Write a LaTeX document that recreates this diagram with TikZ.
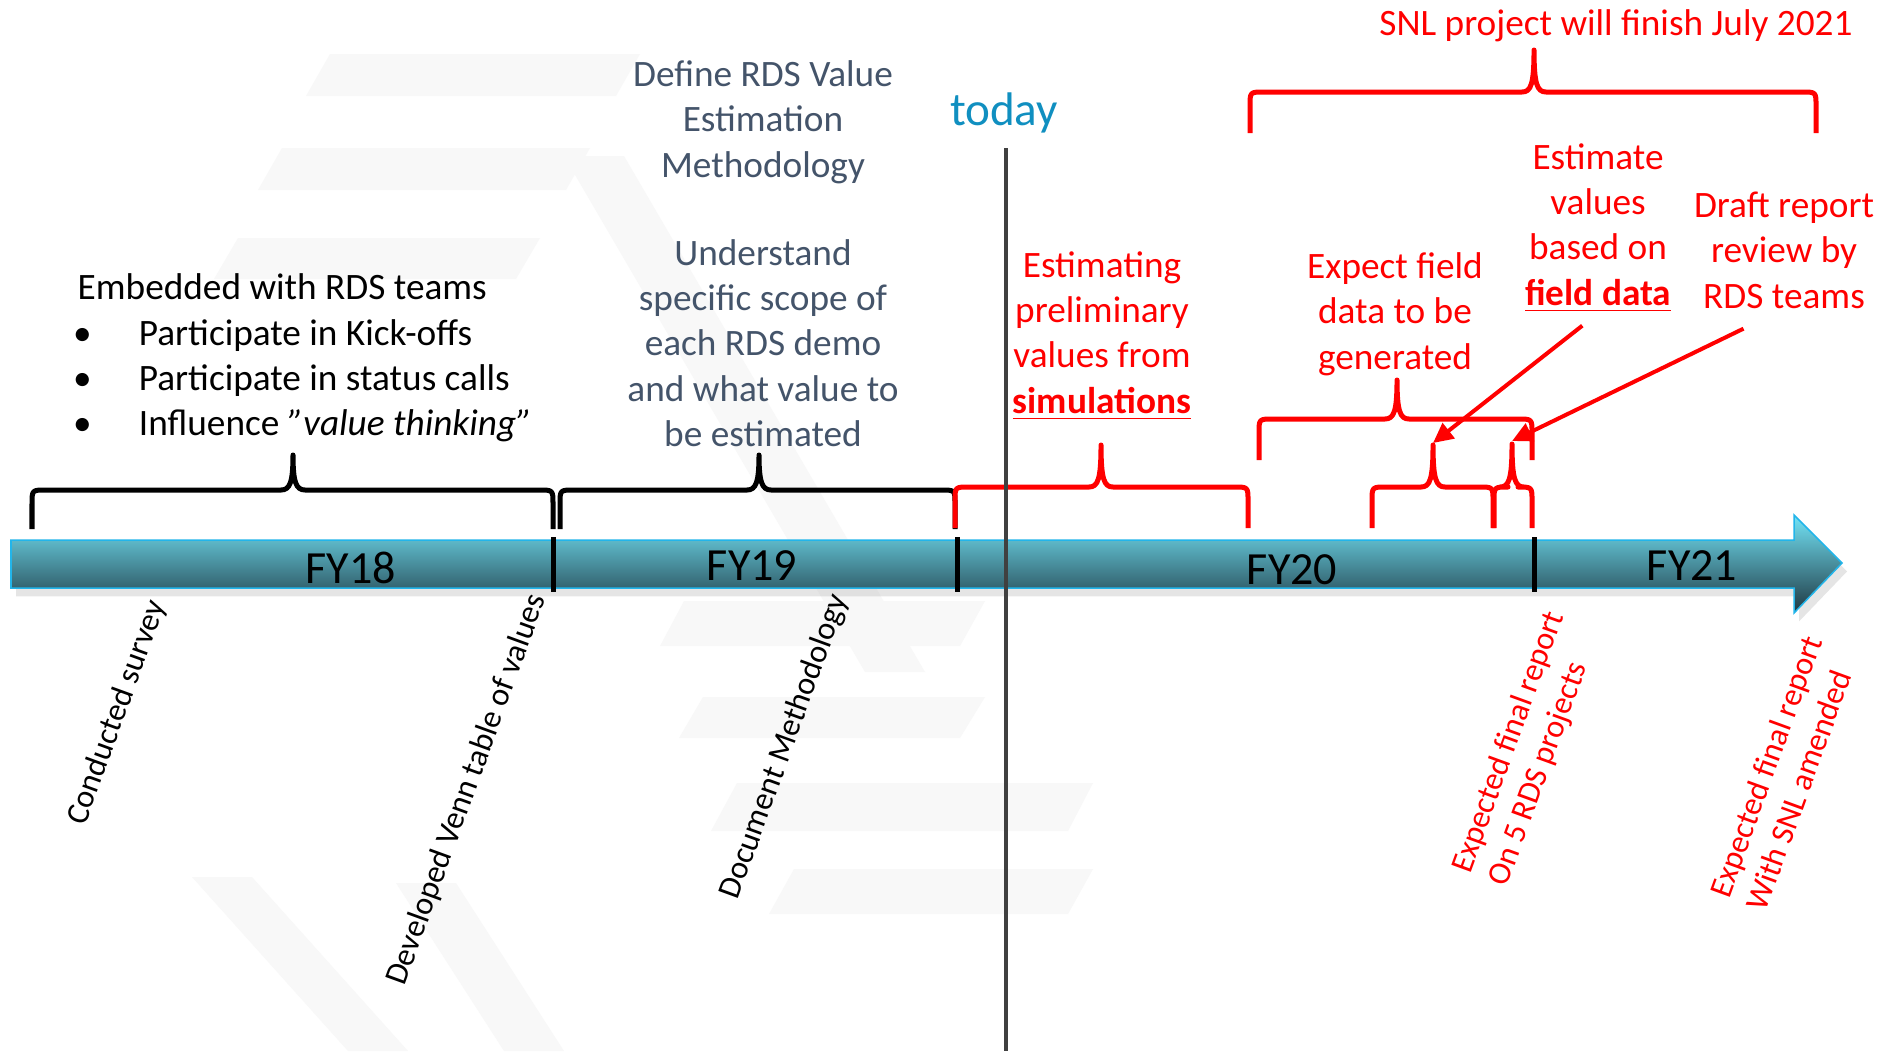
\documentclass[tikz,border=0pt]{standalone}
\usepackage{fontspec}
\setmainfont{Carlito}
\usepackage{tikz}
\usetikzlibrary{shadows,arrows.meta}

\definecolor{slate}{HTML}{44546A}
\definecolor{todayblue}{HTML}{108FC0}
\definecolor{barrim}{HTML}{22B5EA}
\definecolor{bartop}{RGB}{115,228,247}
\definecolor{barmid}{RGB}{85,186,212}
\definecolor{barbot}{RGB}{30,56,66}
\definecolor{wmgrey}{HTML}{F8F8F8}

\newcommand{\timebrace}[7]{\draw[bracket,#1] (#2,#6) -- (#2,#5+14) .. controls (#2,#5) .. (#2+14,#5) -- (#4-12,#5) .. controls (#4-3,#5) and (#4,#5-8) .. (#4,#7) .. controls (#4,#5-8) and (#4+3,#5) .. (#4+12,#5) -- (#3-14,#5) .. controls (#3,#5) .. (#3,#5+14) -- (#3,#6);}

\begin{document}
\begin{tikzpicture}[x=0.01cm, y=-0.01cm, every node/.style={inner sep=0pt},
    bracket/.style={line width=0.05cm, line join=round},
    txt/.style={font=\fontsize{10.6}{12.9}\selectfont, align=center},
    tilted/.style={font=\fontsize{9.2}{11.1}\selectfont, rotate=70},
    year/.style={font=\fontsize{13.1}{15}\selectfont, anchor=base},
    divider/.style={line width=0.05cm},
    pointer/.style={red, line width=0.04cm, -{Triangle[length=0.2cm,width=0.19cm]}},
    wmark/.style={fill=wmgrey}]
    \useasboundingbox[fill=white] (0,0) rectangle (1883,1051);

    \fill[wmark] (330,54) -- (640,54) -- (616,96) -- (306,96) -- cycle;
    \fill[wmark] (282,148) -- (590,148) -- (566,190) -- (258,190) -- cycle;
    \fill[wmark] (238,238) -- (540,238) -- (516,279) -- (214,279) -- cycle;
    \fill[wmark] (684,601) -- (985,601) -- (960,646) -- (660,646) -- cycle;
    \fill[wmark] (703,697) -- (985,697) -- (960,738) -- (679,738) -- cycle;
    \fill[wmark] (737,783) -- (1093,783) -- (1068,831) -- (711,831) -- cycle;
    \fill[wmark] (794,869) -- (1093,869) -- (1068,914) -- (769,914) -- cycle;
    \fill[wmark] (192,877) -- (252,877) -- (408,1051) -- (348,1051) -- cycle;
    \fill[wmark] (396,883) -- (456,883) -- (564,1051) -- (504,1051) -- cycle;
    \fill[wmark] (564,156) -- (624,156) -- (925,672) -- (865,672) -- cycle;

    \shade[top color=bartop, middle color=barmid, bottom color=barbot, draw=barrim, line width=0.015cm, drop shadow={opacity=0.2, shadow xshift=0.3ex}]
        (11,540) -- (1794,540) -- (1794,515) -- (1842,563) -- (1794,613) -- (1794,588) -- (11,588) -- cycle;
    \foreach \x in {553,957,1534}
        \draw[divider] (\x,537) -- (\x,592);

    \node[year] (fy18) at (351,583) {FY18};
    \node[year] (fy19) at (752,580) {FY19};
    \node[year] (fy20) at (1292,584) {FY20};
    \node[year] (fy21) at (1692,580) {FY21};

    \timebrace{black}{32}{553}{293}{490}{529}{455}
    \timebrace{black}{560}{955}{759}{490}{529}{455}
    \timebrace{red}{955}{1248}{1101}{487}{528}{445}
    \timebrace{red}{1259}{1532}{1397}{419}{460}{380}
    \timebrace{red}{1372}{1493}{1433}{487}{528}{445}
    \timebrace{red}{1494}{1532}{1512}{487}{528}{444}
    \timebrace{red}{1250}{1816}{1534}{92}{133}{50}
    \coordinate (tipest) at (1433,443);
    \coordinate (tipdraft) at (1512,441);

    \node[txt, slate] (define) at (763,122) {Define RDS Value\\Estimation\\Methodology};
    \node[txt, slate] (scope) at (763,343) {Understand\\specific scope of\\each RDS demo\\and what value to\\be estimated};
    \node[txt, align=left, anchor=west] (embedded) at (77,358) {Embedded with RDS teams\\
        \makebox[17.4pt][l]{\hspace{-1.3pt}\textbullet}Participate in Kick-offs\\
        \makebox[17.4pt][l]{\hspace{-1.3pt}\textbullet}Participate in status calls\\
        \makebox[17.4pt][l]{\hspace{-1.3pt}\textbullet}Influence \textit{”value thinking”}};
    \node[txt, red] (prelim) at (1102,336) {Estimating\\preliminary\\values from\\\underline{\textbf{simulations}}};
    \node[txt, red] (expect) at (1395,314) {Expect field\\data to be\\generated};
    \node[txt, red] (estval) at (1598,228) {Estimate\\values\\based on\\\underline{\textbf{field data}}};
    \node[txt, red] (draft) at (1784,250) {Draft report\\review by\\RDS teams};
    \node[txt, red, anchor=base] (snl) at (1616,35) {SNL project will finish July 2021};
    \node[font=\fontsize{13.4}{16}\selectfont, todayblue, anchor=base] (today) at (1004,125) {today};

    \node[tilted, anchor=base east] (survey) at (166,604) {Conducted survey};
    \node[tilted, anchor=base east] (venn) at (546,598) {Developed Venn table of values};
    \node[tilted, anchor=base east] (docmeth) at (848,598) {Document Methodology};
    \node[tilted, red, align=left, anchor=north west] (finalrds) at (1448,867) {Expected final report\\On 5 RDS projects};
    \node[tilted, red, align=left, anchor=north west] (finalsnl) at (1707,892) {Expected final report\\With SNL amended};

    \draw[pointer, shorten <=0.2cm] (estval.south) -- (tipest);
    \draw[pointer, shorten <=0.45cm] (draft.south) -- (tipdraft);

    \draw[line width=0.04cm, black!75] (1006,148) -- (1006,1051);
\end{tikzpicture}
\end{document}
